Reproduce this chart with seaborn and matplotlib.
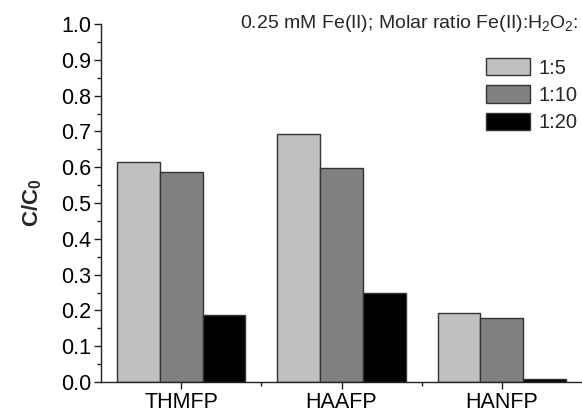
import matplotlib
matplotlib.use("Agg")
import matplotlib.pyplot as plt
import seaborn as sns
import pandas as pd
from matplotlib.ticker import MultipleLocator
from matplotlib.patches import Patch

categories = ["THMFP", "HAAFP", "HANFP"]
ratios = ["1:5", "1:10", "1:20"]
vals_1_5 = [0.615, 0.693, 0.193]
vals_1_10 = [0.587, 0.598, 0.179]
vals_1_20 = [0.187, 0.249, 0.008]
colors = ["#c0c0c0", "#808080", "#000000"]

rows = []
for r, vals in zip(ratios, [vals_1_5, vals_1_10, vals_1_20]):
    for c, v in zip(categories, vals):
        rows.append({"cat": c, "ratio": r, "val": v})
df = pd.DataFrame(rows)

sns.set_theme(style="ticks")
plt.rcParams['font.family'] = ['Liberation Sans', 'DejaVu Sans']
plt.rcParams['mathtext.fontset'] = 'custom'
plt.rcParams['mathtext.rm'] = 'Liberation Sans'
plt.rcParams['mathtext.it'] = 'Liberation Sans:italic'
plt.rcParams['mathtext.bf'] = 'Liberation Sans:bold'

fig = plt.figure(figsize=(5.82, 4.13), dpi=100)
ax = fig.add_axes([101/582, 1 - 382/413, (582 - 101)/582, (382 - 24)/413])
sns.barplot(data=df, x="cat", y="val", hue="ratio", order=categories, hue_order=ratios,
            palette=colors, width=0.8, edgecolor="#333333", linewidth=1.0,
            saturation=1, legend=False, ax=ax)

ax.set_xlim(-0.5, 2.5)
ax.set_ylim(0, 1.0)
ax.yaxis.set_major_locator(MultipleLocator(0.1))
ax.yaxis.set_minor_locator(MultipleLocator(0.05))
ax.set_yticklabels([f"{t:.1f}" for t in ax.get_yticks()])
ax.set_xticks([0, 1, 2])
ax.set_xticks([0.5, 1.5], minor=True)
ax.tick_params(axis="both", which="major", labelsize=15.5, length=5, width=1, direction="out", colors="#222222", labelcolor="black", pad=2)
ax.tick_params(axis="x", which="major", pad=2)
ax.tick_params(axis="both", which="minor", length=3, width=1, direction="out", colors="#222222")
ax.set_xlabel("")
ax.set_ylabel("C/C$_\\mathbf{0}$", fontsize=16, fontweight="bold", labelpad=12)
for s in ["top", "right"]:
    ax.spines[s].set_visible(False)
for s in ["left", "bottom"]:
    ax.spines[s].set_color("#222222")
    ax.spines[s].set_linewidth(1.0)

fig.text(578/582, 1 - 24/413, "0.25 mM Fe(II); Molar ratio Fe(II):H$_2$O$_2$:",
         ha="right", va="center", fontsize=14)

handles = [Patch(facecolor=c, edgecolor="#333333", linewidth=1.0, label=r) for c, r in zip(colors, ratios)]
ax.legend(handles=handles, loc="upper left", bbox_to_anchor=((478 - 101)/(582 - 101), (382 - 50)/358),
          frameon=False, fontsize=14.5, handlelength=2.2, handleheight=0.95, handletextpad=0.4,
          labelspacing=0.38, borderaxespad=0)

fig.savefig("out.png", dpi=100)
